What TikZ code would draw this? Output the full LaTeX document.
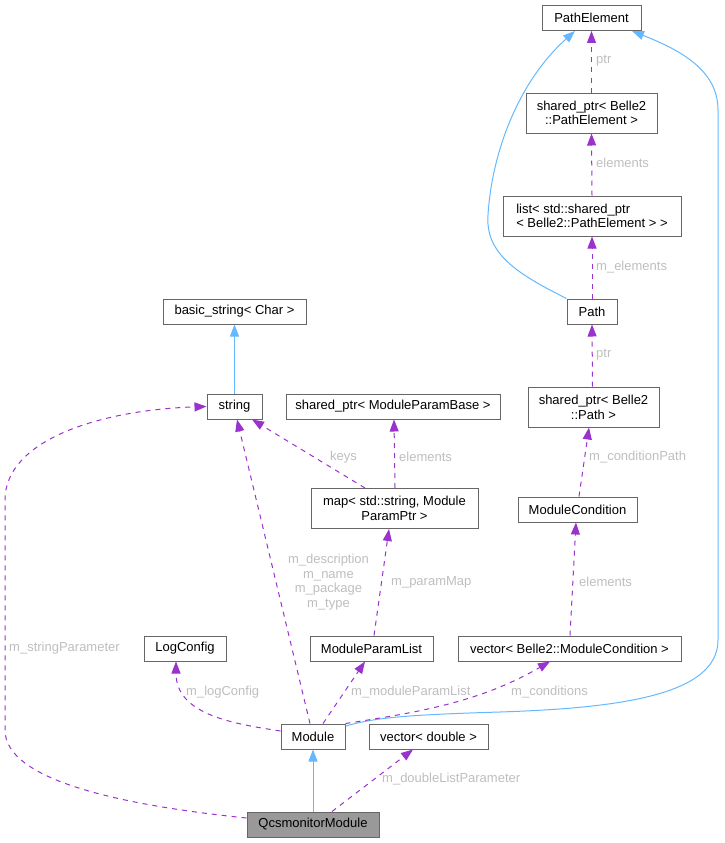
\documentclass[tikz,border=0pt]{standalone}
\usepackage{fontspec}
\setmainfont{Liberation Sans}
\usetikzlibrary{arrows.meta}
\definecolor{inh}{HTML}{63B8FF}
\definecolor{usg}{HTML}{9A32CD}
\definecolor{lbl}{HTML}{BEBEBE}
\definecolor{bord}{HTML}{666666}
\definecolor{cur}{HTML}{999999}
\begin{document}
\begin{tikzpicture}[x=1pt,y=-1pt,
 box/.style={draw=bord,line width=1pt,fill=white,inner sep=0pt,minimum height=25pt,font=\fontsize{13}{14.7}\selectfont,align=center},
 inhedge/.style={draw=inh,line width=1pt,-{Triangle[length=12pt,width=9pt]}},
 useedge/.style={draw=usg,line width=1pt,dash pattern=on 5pt off 5pt,-{Triangle[length=12pt,width=9pt]}},
 elabel/.style={text=lbl,font=\fontsize{13}{14.7}\selectfont,anchor=west,inner sep=0pt}]
\useasboundingbox (0,0) rectangle (724,843);
% nodes
\node[box,minimum width=99pt] (pe) at (591.5,18) {PathElement};
\node[box,minimum width=131pt,minimum height=40pt] (sppe) at (591.5,113) {shared\_ptr< Belle2\\::PathElement >};
\node[box,minimum width=178pt,minimum height=40pt,align=left] (list) at (592,216) {list< std::shared\_ptr\\< Belle2::PathElement > >};
\node[box,minimum width=50pt] (path) at (592,311.5) {Path};
\node[box,minimum width=131pt,minimum height=40pt] (sppath) at (593.5,407) {shared\_ptr< Belle2\\::Path >};
\node[box,minimum width=119pt] (modcond) at (577.5,509.5) {ModuleCondition};
\node[box,minimum width=223pt] (vecmc) at (569.5,648.5) {vector< Belle2::ModuleCondition >};
\node[box,minimum width=119pt] (vecd) at (428.5,736.5) {vector< double >};
\node[box,minimum width=143pt] (basic) at (234.5,311.5) {basic\_string< Char >};
\node[box,minimum width=55pt] (string) at (234.5,406.5) {string};
\node[box,minimum width=214pt] (spmpb) at (393,406.5) {shared\_ptr< ModuleParamBase >};
\node[box,minimum width=167pt,minimum height=40pt] (map) at (394.5,508.5) {map< std::string, Module\\ParamPtr >};
\node[box,minimum width=82pt] (logc) at (185,648.5) {LogConfig};
\node[box,minimum width=123pt] (mpl) at (371.5,648.5) {ModuleParamList};
\node[box,minimum width=64pt] (module) at (313,736.5) {Module};
\node[box,minimum width=132pt,fill=cur] (qcs) at (313,824.5) {QcsmonitorModule};
% inheritance edges
\draw[inhedge] (string.north) -- (basic.south);
\draw[inhedge] (qcs.north) -- (module.south);
\draw[inhedge] (path.north west) .. controls (520,275) and (485,255) .. (488,215) .. controls (492,150) and (520,80) .. ([xshift=-16.5pt]pe.south);
\draw[inhedge] ([yshift=10.5pt]module.east) .. controls (375,718) and (400,715) .. (500,712) .. controls (620,708) and (718,695) .. (718,640) -- (718,110) .. controls (718,70) and (680,50) .. ([xshift=40.5pt]pe.south);
% usage edges
\draw[useedge] (sppe.north) -- (pe.south);
\node[elabel] (l1) at (596,61) {ptr};
\draw[useedge] (list.north) -- (sppe.south);
\node[elabel] (l2) at (596,163) {elements};
\draw[useedge] (path.north) -- (list.south);
\node[elabel] (l3) at (596,267) {m\_elements};
\draw[useedge] ([xshift=-1pt]sppath.north) -- (path.south);
\node[elabel] (l4) at (596,355) {ptr};
\draw[useedge] ([xshift=1.5pt]modcond.north) -- ([xshift=-4.5pt]sppath.south);
\node[elabel] (l5) at (589,457) {m\_conditionPath};
\draw[useedge] ([xshift=0.5pt]vecmc.north) -- ([xshift=-1.5pt]modcond.south);
\node[elabel] (l6) at (579,582) {elements};
\draw[useedge] (module.north east) .. controls (420,712) and (480,702) .. ([xshift=-19.5pt]vecmc.south);
\node[elabel] (l7) at (511,692) {m\_conditions};
\draw[useedge] ([xshift=10pt]module.north) -- ([xshift=-6.5pt]mpl.south);
\node[elabel] (l8) at (351,692) {m\_moduleParamList};
\draw[useedge] ([xshift=2.5pt]mpl.north) -- ([xshift=-5.5pt]map.south);
\node[elabel] (l9) at (391,582) {m\_paramMap};
\draw[useedge] ([xshift=0.5pt]map.north) -- ([xshift=1pt]spmpb.south);
\node[elabel] (l10) at (399,457) {elements};
\draw[useedge] ([xshift=-29.5pt]map.north) -- ([xshift=17.5pt]string.south);
\node[elabel] (l11) at (330,457) {keys};
\draw[useedge] ([xshift=-3pt]module.north) -- ([xshift=2.5pt]string.south);
\node[elabel,anchor=center,align=center] (l12) at (328.5,582) {m\_description\\m\_name\\m\_package\\m\_type};
\draw[useedge] ([yshift=5.5pt]module.west) .. controls (235,724) and (176,715) .. ([xshift=-9pt]logc.south);
\node[elabel] (l13) at (186,692) {m\_logConfig};
\draw[useedge] ([xshift=19pt]qcs.north) -- ([xshift=-15.5pt]vecd.south);
\node[elabel] (l14) at (382,779) {m\_doubleListParameter};
\draw[useedge] ([yshift=6.5pt]qcs.west) .. controls (120,805) and (5,780) .. (5,730) -- (5,500) .. controls (5,440) and (100,410) .. (string.west);
\node[elabel] (l15) at (9,648) {m\_stringParameter};
\end{tikzpicture}
\end{document}
